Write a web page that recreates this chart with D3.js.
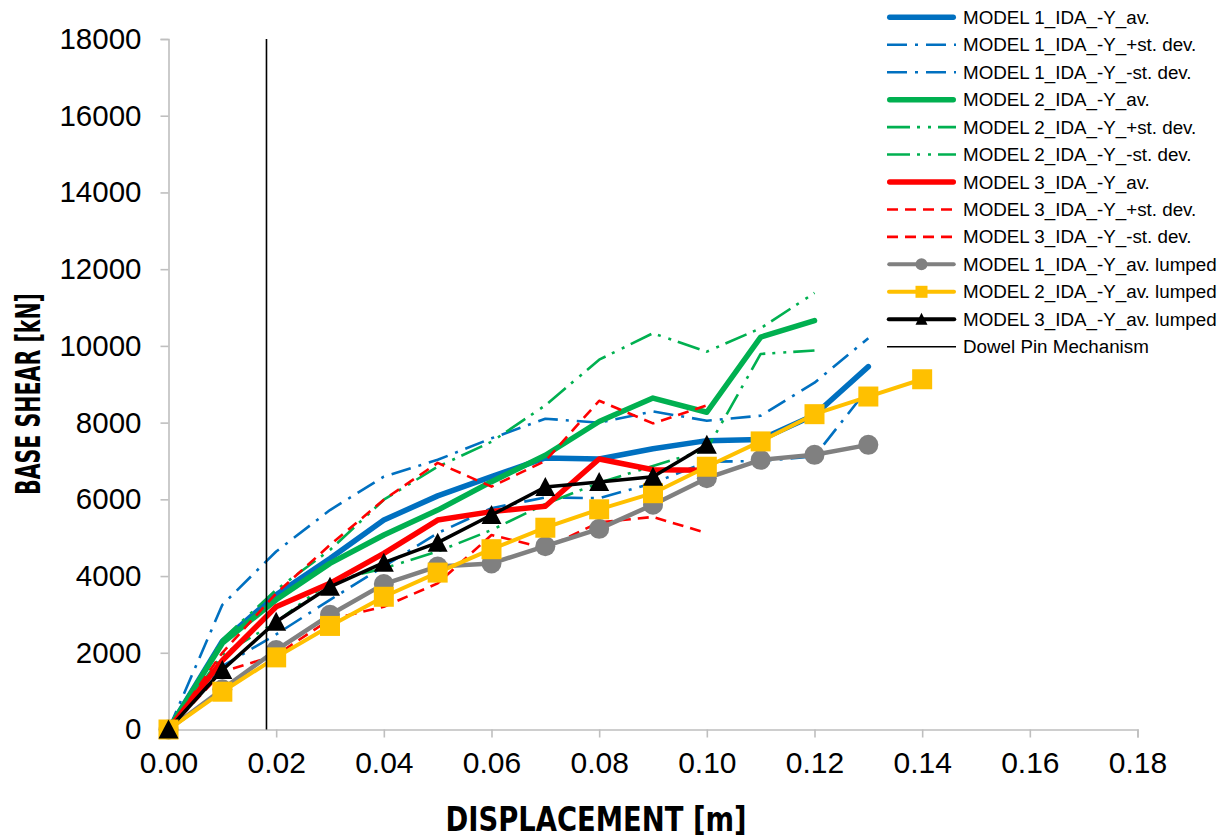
<!DOCTYPE html>
<html>
<head>
<meta charset="utf-8">
<script src="https://cdn.jsdelivr.net/npm/d3@7/dist/d3.min.js"></script>
<style>
  html, body { margin: 0; padding: 0; background: #fff; }
  svg { display: block; }
</style>
</head>
<body>
<svg id="chart" width="1229" height="838"></svg>
<script>
// Displacement steps [m]
const displacement = [0, 0.01, 0.02, 0.03, 0.04, 0.05, 0.06, 0.07, 0.08, 0.09, 0.10, 0.11, 0.12, 0.13, 0.14];

// Base shear [kN] per series
const m1Av     = [0, 2300, 3510, 4460, 5460, 6090, 6590, 7080, 7050, 7320, 7530, 7560, 8200, 9460];
const m1Plus   = [0, 3250, 4640, 5720, 6590, 7030, 7590, 8100, 8000, 8290, 8050, 8180, 9040, 10200];
const m1Minus  = [0, 1650, 2480, 3380, 4250, 5120, 5770, 6050, 6030, 6420, 6980, 7000, 7120, 8900];
const m2Av     = [0, 2250, 3380, 4330, 5070, 5720, 6460, 7150, 8030, 8640, 8270, 10230, 10660];
const m2Plus   = [0, 2350, 3640, 4680, 5990, 6850, 7500, 8450, 9640, 10330, 9850, 10460, 11380];
const m2Minus  = [0, 1950, 2800, 3860, 4200, 4640, 5200, 5880, 6430, 6870, 7300, 9790, 9880];
const m3Av     = [0, 1800, 3200, 3810, 4590, 5460, 5680, 5820, 7050, 6770, 6760];
const m3Plus   = [0, 2000, 3550, 4810, 5990, 6950, 6330, 7000, 8570, 7980, 8450];
const m3Minus  = [0, 1500, 1940, 2870, 3200, 3810, 5070, 4730, 5400, 5540, 5120];
const m1Lumped = [0, 1050, 2070, 2990, 3790, 4250, 4330, 4780, 5230, 5860, 6550, 7030, 7160, 7420];
const m2Lumped = [0, 985, 1880, 2700, 3460, 4090, 4700, 5260, 5740, 6160, 6850, 7510, 8220, 8680, 9130];
const m3Lumped = [0, 1550, 2810, 3720, 4350, 4870, 5590, 6320, 6450, 6590, 7420];

// Dowel pin mechanism displacement [m]
const dowelDisp = 0.0182;

// Axis ticks
const xTicks = [0, 0.02, 0.04, 0.06, 0.08, 0.10, 0.12, 0.14, 0.16, 0.18];
const yTicks = [0, 2000, 4000, 6000, 8000, 10000, 12000, 14000, 16000, 18000];

const series = [
  { name: "MODEL 1_IDA_-Y_av.",          values: m1Av,     color: "#0070C0", width: 5.5, dash: null,               cap: "round", marker: null },
  { name: "MODEL 1_IDA_-Y_+st. dev.",    values: m1Plus,   color: "#0070C0", width: 2.6, dash: "20,8,3,8",         cap: "butt",  marker: null },
  { name: "MODEL 1_IDA_-Y_-st. dev.",    values: m1Minus,  color: "#0070C0", width: 2.6, dash: "20,8,3,8",         cap: "butt",  marker: null },
  { name: "MODEL 2_IDA_-Y_av.",          values: m2Av,     color: "#00B050", width: 5.5, dash: null,               cap: "round", marker: null },
  { name: "MODEL 2_IDA_-Y_+st. dev.",    values: m2Plus,   color: "#00B050", width: 2.6, dash: "23,7,3,8,3,7",     cap: "butt",  marker: null },
  { name: "MODEL 2_IDA_-Y_-st. dev.",    values: m2Minus,  color: "#00B050", width: 2.6, dash: "23,7,3,8,3,7",     cap: "butt",  marker: null },
  { name: "MODEL 3_IDA_-Y_av.",          values: m3Av,     color: "#FF0000", width: 5.5, dash: null,               cap: "round", marker: null },
  { name: "MODEL 3_IDA_-Y_+st. dev.",    values: m3Plus,   color: "#FF0000", width: 2.6, dash: "11,7",             cap: "butt",  marker: null },
  { name: "MODEL 3_IDA_-Y_-st. dev.",    values: m3Minus,  color: "#FF0000", width: 2.6, dash: "11,7",             cap: "butt",  marker: null },
  { name: "MODEL 1_IDA_-Y_av. lumped",   values: m1Lumped, color: "#808080", width: 4.5, dash: null,               cap: "round", marker: "circle" },
  { name: "MODEL 2_IDA_-Y_av. lumped",   values: m2Lumped, color: "#FFC000", width: 4,   dash: null,               cap: "round", marker: "square" },
  { name: "MODEL 3_IDA_-Y_av. lumped",   values: m3Lumped, color: "#000000", width: 3.5, dash: null,               cap: "round", marker: "triangle" }
];

const svg = d3.select("#chart");
const plot = { left: 168.5, right: 1137.5, top: 39, bottom: 729.5 };

const x = d3.scaleLinear().domain([0, 0.18]).range([plot.left, plot.right]);
const y = d3.scaleLinear().domain([0, 18000]).range([plot.bottom, plot.top]);

const axisColor = "#BFBFBF";
const tickFont = "'Liberation Sans', Arial, sans-serif";

// Y axis
const yAxis = svg.append("g")
  .attr("transform", `translate(${plot.left},0)`)
  .call(d3.axisLeft(y).tickValues(yTicks).tickSize(8).tickPadding(19).tickFormat(d3.format("d")));
// X axis
const xAxis = svg.append("g")
  .attr("transform", `translate(0,${plot.bottom})`)
  .call(d3.axisBottom(x).tickValues(xTicks).tickSize(8).tickPadding(14).tickFormat(d3.format(".2f")));

[yAxis, xAxis].forEach(g => {
  g.select(".domain").attr("stroke", axisColor).attr("stroke-width", 1.6);
  g.selectAll(".tick line").attr("stroke", axisColor).attr("stroke-width", 1.6);
  g.selectAll(".tick text").attr("fill", "#000").attr("font-family", tickFont);
});
yAxis.selectAll(".tick text").attr("font-size", 29.5);
xAxis.selectAll(".tick text").attr("font-size", 30);

// Axis titles
const titleFont = "'Liberation Sans Narrow', 'DejaVu Sans Condensed', 'Liberation Sans', sans-serif";
svg.append("text")
  .attr("transform", "translate(40,394) rotate(-90)")
  .attr("text-anchor", "middle")
  .attr("font-family", titleFont)
  .attr("font-weight", "bold")
  .attr("font-size", 33)
  .attr("textLength", 202)
  .attr("lengthAdjust", "spacingAndGlyphs")
  .text("BASE SHEAR [kN]");
svg.append("text")
  .attr("x", 596)
  .attr("y", 831)
  .attr("text-anchor", "middle")
  .attr("font-family", titleFont)
  .attr("font-weight", "bold")
  .attr("font-size", 34)
  .attr("textLength", 301)
  .attr("lengthAdjust", "spacingAndGlyphs")
  .text("DISPLACEMENT [m]");

// Series lines
const line = d3.line()
  .x((d, i) => x(displacement[i]))
  .y(d => y(d));

const lines = svg.append("g");
series.forEach(s => {
  lines.append("path")
    .datum(s.values)
    .attr("d", line)
    .attr("fill", "none")
    .attr("stroke", s.color)
    .attr("stroke-width", s.width)
    .attr("stroke-linejoin", "round")
    .attr("stroke-linecap", s.cap)
    .attr("stroke-dasharray", s.dash);
});

// Markers for lumped-model series
function drawMarker(g, type, cx, cy, size, color) {
  if (type === "circle") {
    g.append("circle").attr("cx", cx).attr("cy", cy).attr("r", size / 2).attr("fill", color);
  } else if (type === "square") {
    g.append("rect").attr("x", cx - size / 2).attr("y", cy - size / 2)
      .attr("width", size).attr("height", size).attr("fill", color);
  } else if (type === "triangle") {
    const h = size * 0.9;
    g.append("path")
      .attr("d", `M${cx},${cy - h / 2 - 1}L${cx + size / 2},${cy + h / 2}L${cx - size / 2},${cy + h / 2}Z`)
      .attr("fill", color);
  }
}

const markers = svg.append("g");
series.filter(s => s.marker).forEach(s => {
  s.values.forEach((v, i) => drawMarker(markers, s.marker, x(displacement[i]), y(v), 20, s.color));
});

// Dowel pin mechanism line
svg.append("line")
  .attr("x1", x(dowelDisp)).attr("x2", x(dowelDisp))
  .attr("y1", y(0)).attr("y2", y(18000))
  .attr("stroke", "#000").attr("stroke-width", 1.6);

// Legend
const legendItems = series.map(s => s).concat([
  { name: "Dowel Pin Mechanism", color: "#000", width: 1.6, dash: null, cap: "butt", marker: null }
]);
const legend = svg.append("g");
const lgX0 = 887, lgX1 = 956, lgTextX = 963, lgY0 = 17.3, lgStep = 27.45;
legendItems.forEach((s, i) => {
  const cy = lgY0 + i * lgStep;
  legend.append("line")
    .attr("x1", lgX0 + (s.cap === "round" ? s.width / 2 : 0))
    .attr("x2", lgX1 - (s.cap === "round" ? s.width / 2 : 0))
    .attr("y1", cy).attr("y2", cy)
    .attr("stroke", s.color)
    .attr("stroke-width", s.marker ? 4 : s.width)
    .attr("stroke-linecap", s.cap)
    .attr("stroke-dasharray", s.dash);
  if (s.marker) drawMarker(legend, s.marker, (lgX0 + lgX1) / 2, cy, 12, s.color);
  legend.append("text")
    .attr("x", lgTextX).attr("y", cy)
    .attr("dy", "0.35em")
    .attr("font-family", tickFont)
    .attr("font-size", 18.8)
    .attr("fill", "#000")
    .text(s.name);
});
</script>
</body>
</html>
